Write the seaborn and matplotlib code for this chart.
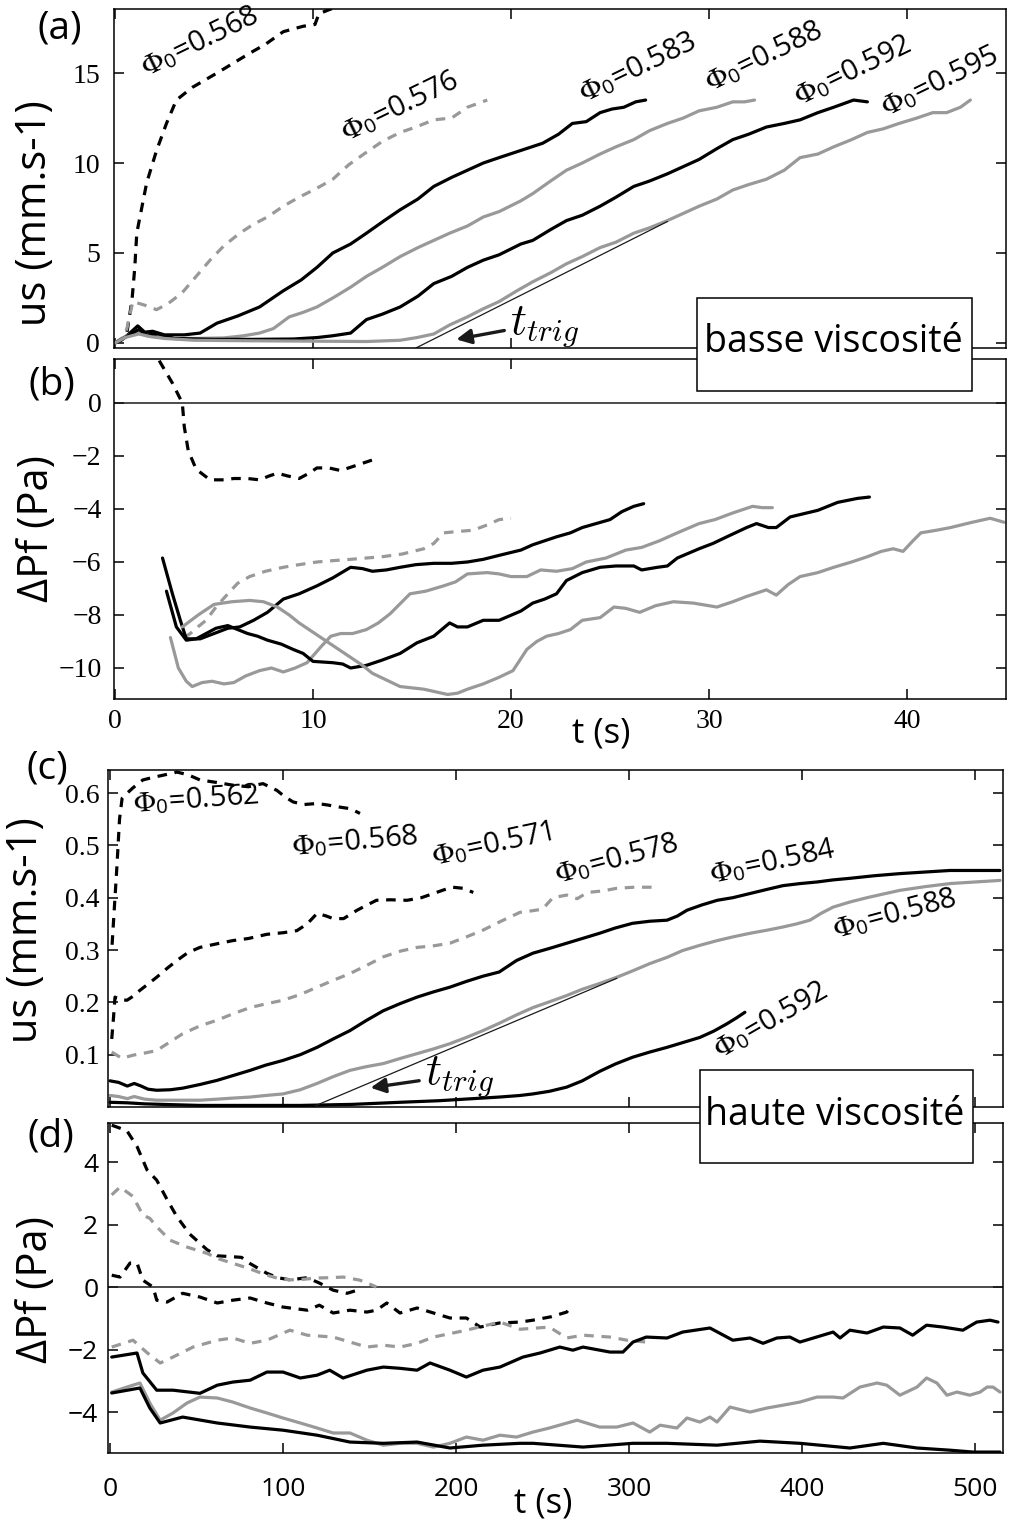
import matplotlib
matplotlib.use("Agg")
import matplotlib.pyplot as plt
from matplotlib.patches import Rectangle
import seaborn as sns

# ---------------- panel (a): us (mm/s), low viscosity ----------------
a568_t = [0, 0.35, 0.6, 0.86, 1.0, 1.1, 1.26, 1.6, 2.1, 2.6, 3.1, 3.9, 5.15, 6.8, 7.6, 8.5, 9.5, 10.1, 10.3, 11.0, 11.6]
a568_u = [0, 0.17, 0.55, 2.4, 4.2, 6.1, 7.0, 8.9, 10.7, 12.2, 13.5, 14.2, 15.0, 16.1, 16.6, 17.3, 17.6, 17.7, 18.3, 18.6, 19.2]
a576_t = [0, 0.4, 0.6, 0.9, 1.5, 2.1, 2.7, 3.4, 4.1, 4.8, 5.5, 6.3, 7.0, 7.7, 8.5, 9.3, 10.2, 11.0, 11.8, 12.7, 13.5, 14.4, 15.2, 16.1, 17.0, 17.8, 18.3, 18.8]
a576_u = [0, 0.3, 0.8, 2.3, 2.1, 1.85, 2.2, 2.8, 3.7, 4.6, 5.4, 6.1, 6.6, 7.0, 7.6, 8.1, 8.6, 9.1, 9.9, 10.6, 11.2, 11.7, 12.0, 12.4, 12.5, 13.1, 13.3, 13.5]
a583_t = [0, 0.5, 0.8, 1.15, 1.5, 1.9, 2.5, 3.5, 4.3, 5.15, 6.2, 7.3, 8.5, 9.4, 10.2, 11.0, 11.9, 12.7, 13.6, 14.4, 15.3, 16.1, 17.0, 17.8, 18.6, 19.4, 20.5, 21.6, 22.4, 23.1, 23.8, 24.5, 25.1, 25.7, 26.3, 26.8]
a583_u = [0, 0.3, 0.6, 0.95, 0.6, 0.65, 0.45, 0.45, 0.55, 1.1, 1.5, 2.0, 2.9, 3.5, 4.2, 5.0, 5.5, 6.1, 6.8, 7.4, 8.0, 8.7, 9.2, 9.6, 10.0, 10.3, 10.7, 11.1, 11.6, 12.2, 12.3, 12.8, 13.0, 13.1, 13.4, 13.5]
a588_t = [0, 0.5, 1.1, 1.6, 2.5, 4, 5.5, 6.5, 7.3, 8.0, 8.8, 9.5, 10.2, 11.0, 11.9, 12.7, 13.5, 14.4, 15.3, 16.1, 16.9, 17.8, 18.6, 19.4, 20.5, 21.1, 22.0, 22.8, 23.6, 24.5, 25.3, 26.2, 27.0, 27.9, 28.7, 29.5, 30.4, 31.2, 31.8, 32.3]
a588_u = [0, 0.35, 0.6, 0.4, 0.3, 0.25, 0.28, 0.4, 0.55, 0.8, 1.45, 1.7, 2.0, 2.5, 3.1, 3.7, 4.2, 4.8, 5.3, 5.7, 6.1, 6.5, 7.0, 7.3, 7.9, 8.3, 9.0, 9.6, 10.0, 10.5, 10.9, 11.3, 11.8, 12.2, 12.5, 12.9, 13.1, 13.4, 13.4, 13.5]
a592_t = [0, 0.5, 1.2, 1.6, 2.2, 3, 5, 7, 9, 10.2, 11.0, 11.9, 12.7, 13.5, 14.4, 15.3, 16.1, 17.0, 17.8, 18.6, 19.4, 20.5, 21.1, 22.0, 22.8, 23.6, 24.5, 25.3, 26.2, 27.0, 27.9, 28.7, 29.5, 30.4, 31.2, 32.0, 32.9, 33.8, 34.6, 35.5, 36.3, 37.3, 38.0]
a592_u = [0, 0.3, 0.75, 0.45, 0.5, 0.25, 0.2, 0.2, 0.22, 0.3, 0.4, 0.55, 1.3, 1.6, 2.0, 2.6, 3.3, 3.7, 4.2, 4.6, 4.9, 5.5, 5.7, 6.3, 6.8, 7.1, 7.6, 8.1, 8.7, 9.0, 9.4, 9.8, 10.2, 10.8, 11.3, 11.6, 12.0, 12.2, 12.4, 12.8, 13.1, 13.5, 13.4]
a595_t = [0, 0.5, 1.2, 1.8, 2.5, 4, 7, 10, 12.7, 14.4, 15.25, 16.1, 16.9, 17.8, 18.6, 19.4, 20.3, 21.1, 22.0, 22.8, 23.6, 24.5, 25.3, 26.2, 27.0, 27.9, 28.7, 29.5, 30.4, 31.2, 32.0, 32.9, 33.8, 34.6, 35.5, 36.3, 37.2, 38.0, 38.8, 39.6, 40.5, 41.3, 42.0, 42.7, 43.2]
a595_u = [0, 0.3, 0.5, 0.35, 0.25, 0.15, 0.12, 0.1, 0.08, 0.15, 0.3, 0.5, 1.0, 1.45, 1.9, 2.3, 2.9, 3.4, 3.9, 4.4, 4.8, 5.3, 5.6, 6.1, 6.4, 6.8, 7.2, 7.6, 8.0, 8.5, 8.8, 9.1, 9.6, 10.3, 10.5, 10.9, 11.3, 11.7, 11.9, 12.2, 12.5, 12.8, 12.8, 13.1, 13.5]
trig_a_t = [15.2, 27.9]
trig_a_u = [-0.28, 6.75]

# ---------------- panel (b): delta Pf (Pa), low viscosity ----------------
b568_t = [1.9, 2.27, 2.9, 3.4, 3.5, 3.7, 4.1, 4.8, 5.5, 6.0, 6.7, 7.3, 7.8, 8.2, 8.7, 9.3, 9.8, 10.2, 10.8, 11.4, 12.2, 13.0]
b568_p = [2.2, 1.55, 0.75, 0.0, -0.9, -1.8, -2.5, -2.9, -2.9, -2.85, -2.85, -2.9, -2.75, -2.65, -2.75, -2.85, -2.65, -2.45, -2.45, -2.55, -2.35, -2.15]
b576_t = [3.5, 3.8, 4.1, 4.6, 5.1, 5.7, 6.2, 6.8, 7.6, 8.5, 9.3, 10.2, 11.0, 11.9, 12.7, 13.5, 14.5, 15.6, 16.1, 16.6, 17.3, 18.1, 18.8, 19.4, 20.0]
b576_p = [-8.85, -8.7, -8.5, -8.2, -7.7, -7.2, -6.8, -6.55, -6.35, -6.2, -6.1, -6.0, -5.95, -5.9, -5.85, -5.8, -5.7, -5.5, -5.3, -4.9, -4.85, -4.8, -4.6, -4.4, -4.35]
b583_t = [2.4, 2.9, 3.3, 3.6, 4.3, 5.0, 5.7, 6.3, 7.0, 7.7, 8.5, 9.3, 10.2, 11.0, 11.9, 12.5, 13.0, 13.7, 14.4, 15.2, 16.1, 17.0, 17.8, 18.6, 19.4, 20.5, 21.1, 22.3, 23.0, 23.6, 24.3, 25.0, 25.6, 26.2, 26.7]
b583_p = [-5.85, -7.2, -8.2, -8.9, -8.9, -8.7, -8.5, -8.45, -8.2, -7.9, -7.4, -7.2, -6.9, -6.6, -6.2, -6.25, -6.35, -6.3, -6.2, -6.1, -6.05, -6.05, -6.0, -5.9, -5.75, -5.55, -5.35, -5.05, -4.9, -4.7, -4.55, -4.4, -4.1, -3.9, -3.8]
b588_t = [2.8, 3.2, 3.6, 3.9, 4.4, 4.9, 5.5, 6.0, 6.6, 7.3, 7.9, 8.5, 9.1, 9.7, 10.4, 10.9, 11.4, 12.0, 12.7, 13.3, 13.9, 14.9, 15.7, 16.6, 17.2, 17.8, 18.8, 19.4, 20.0, 20.8, 21.5, 22.3, 23.1, 23.8, 24.8, 25.8, 26.6, 27.5, 28.4, 29.5, 30.3, 31.2, 32.2, 32.7, 33.2]
b588_p = [-8.85, -10.0, -10.5, -10.7, -10.55, -10.5, -10.6, -10.55, -10.3, -10.1, -10.0, -10.15, -10.0, -9.8, -9.2, -8.8, -8.7, -8.7, -8.55, -8.3, -7.95, -7.2, -7.1, -6.9, -6.75, -6.45, -6.4, -6.45, -6.55, -6.55, -6.3, -6.35, -6.25, -6.0, -5.85, -5.55, -5.45, -5.2, -4.9, -4.55, -4.4, -4.15, -3.9, -3.95, -3.95]
b592_t = [2.6, 3.1, 3.6, 4.1, 4.6, 5.1, 5.7, 6.2, 6.7, 7.2, 7.7, 8.4, 9.0, 9.5, 10.0, 11.0, 11.5, 11.9, 12.3, 12.7, 13.5, 14.4, 15.25, 16.1, 16.9, 17.3, 17.8, 18.6, 19.4, 20.5, 21.1, 21.7, 22.3, 22.8, 23.6, 24.5, 25.3, 26.2, 26.6, 27.0, 27.4, 27.9, 28.4, 29.5, 30.2, 30.9, 31.9, 32.4, 33.0, 33.4, 34.1, 35.5, 36.5, 37.5, 38.1]
b592_p = [-7.1, -8.45, -8.95, -8.9, -8.7, -8.5, -8.4, -8.55, -8.7, -8.8, -8.95, -9.1, -9.3, -9.45, -9.75, -9.8, -9.85, -10.0, -9.95, -9.9, -9.7, -9.45, -9.05, -8.8, -8.3, -8.45, -8.45, -8.2, -8.2, -7.85, -7.55, -7.4, -7.2, -6.7, -6.4, -6.2, -6.15, -6.15, -6.3, -6.25, -6.2, -6.15, -5.85, -5.5, -5.3, -5.05, -4.7, -4.55, -4.7, -4.7, -4.3, -4.05, -3.75, -3.6, -3.55]
b595_t = [3.4, 4.2, 5.0, 5.9, 6.8, 7.5, 8.2, 8.8, 9.3, 9.9, 10.5, 11.2, 11.9, 12.5, 13.0, 13.7, 14.4, 15.0, 15.6, 16.2, 16.8, 17.3, 17.8, 18.6, 19.4, 20.1, 20.8, 21.3, 21.8, 22.4, 23.0, 23.6, 24.5, 25.2, 25.8, 26.5, 27.3, 28.2, 29.2, 30.4, 31.2, 31.9, 32.9, 33.4, 34.0, 34.6, 35.5, 36.3, 37.2, 38.0, 38.7, 39.3, 39.8, 40.3, 40.7, 41.5, 42.2, 43.3, 44.2, 44.9]
b595_p = [-8.45, -8.0, -7.6, -7.5, -7.45, -7.5, -7.7, -8.0, -8.3, -8.6, -8.9, -9.25, -9.6, -9.9, -10.2, -10.45, -10.7, -10.75, -10.8, -10.9, -11.0, -10.95, -10.8, -10.6, -10.35, -10.1, -9.3, -9.0, -8.8, -8.7, -8.55, -8.2, -8.1, -7.7, -7.75, -7.9, -7.65, -7.5, -7.55, -7.7, -7.5, -7.3, -7.05, -7.25, -6.85, -6.55, -6.4, -6.2, -6.0, -5.8, -5.6, -5.5, -5.6, -5.2, -4.9, -4.8, -4.7, -4.5, -4.35, -4.5]

# ---------------- panel (c): us (mm/s), high viscosity ----------------
c562_t = [1.2, 2.5, 4.0, 5.5, 7.0, 10, 13.3, 19, 25, 32, 38.7, 45, 52, 62, 71, 80, 88.4, 96.5, 101, 105.8, 112, 119.7, 126, 133, 139, 144.5]
c562_u = [0.31, 0.38, 0.46, 0.55, 0.59, 0.6, 0.61, 0.625, 0.63, 0.635, 0.64, 0.635, 0.625, 0.62, 0.615, 0.612, 0.618, 0.605, 0.593, 0.583, 0.578, 0.58, 0.577, 0.573, 0.57, 0.561]
c571_t = [1, 2.0, 2.9, 6, 9.8, 13.5, 17.3, 22, 27, 33, 38.7, 45, 52, 62, 71, 80, 90.7, 100, 108, 114, 119.7, 125, 129, 135, 142.8, 148, 154, 162, 171.7, 180, 187, 193, 198, 204, 210]
c571_u = [0.13, 0.17, 0.21, 0.205, 0.204, 0.212, 0.223, 0.235, 0.248, 0.265, 0.28, 0.295, 0.305, 0.312, 0.318, 0.322, 0.33, 0.333, 0.337, 0.35, 0.37, 0.365, 0.36, 0.36, 0.376, 0.385, 0.395, 0.396, 0.395, 0.4, 0.408, 0.415, 0.42, 0.418, 0.41]
c578_t = [1, 6.9, 13.3, 20, 27, 35, 42, 52, 62, 71, 81, 90, 100, 110, 119.7, 129, 138.7, 148, 158, 168, 177.5, 187, 196.5, 206, 215.6, 226, 237, 244, 250, 256, 264, 270, 276, 285, 293, 303, 315]
c578_u = [0.105, 0.093, 0.099, 0.103, 0.108, 0.125, 0.14, 0.155, 0.166, 0.178, 0.19, 0.197, 0.204, 0.215, 0.229, 0.242, 0.255, 0.27, 0.287, 0.298, 0.305, 0.308, 0.313, 0.325, 0.338, 0.355, 0.372, 0.375, 0.378, 0.40, 0.405, 0.398, 0.41, 0.413, 0.418, 0.42, 0.42]
c584_t = [0, 5, 10, 14, 18, 22, 27, 35, 42, 52, 62, 71, 81, 90, 100, 110, 119.7, 129, 138.7, 148, 158, 168, 177.5, 187, 196.5, 206, 215.6, 225, 235, 244.5, 254, 264, 273, 283, 292, 302, 312, 322, 328, 333.5, 342, 351, 360, 370, 380, 389, 399, 408.7, 418, 427.7, 442, 456.6, 471, 485.5, 500, 514.5]
c584_u = [0.05, 0.047, 0.04, 0.045, 0.04, 0.034, 0.032, 0.033, 0.036, 0.043, 0.051, 0.06, 0.07, 0.08, 0.089, 0.1, 0.114, 0.13, 0.146, 0.165, 0.184, 0.198, 0.21, 0.22, 0.229, 0.24, 0.25, 0.258, 0.28, 0.294, 0.303, 0.313, 0.322, 0.332, 0.342, 0.351, 0.355, 0.357, 0.365, 0.376, 0.386, 0.395, 0.40, 0.408, 0.416, 0.423, 0.427, 0.43, 0.434, 0.437, 0.442, 0.446, 0.449, 0.452, 0.452, 0.452]
c588_t = [0, 5, 10, 14, 20, 27, 40, 52, 62, 71, 81, 90, 100, 110, 119.7, 129, 138.7, 148, 158, 168, 177.5, 187, 196.5, 206, 215.6, 225, 235, 244.5, 254, 264, 273, 283, 293, 302, 312, 322, 331, 341, 351, 360, 370, 380, 389, 397, 404.6, 411, 418, 428, 437.6, 447, 456.6, 471, 485.5, 500, 514.5]
c588_u = [0.022, 0.02, 0.016, 0.02, 0.015, 0.013, 0.013, 0.013, 0.015, 0.017, 0.019, 0.022, 0.025, 0.033, 0.045, 0.058, 0.07, 0.077, 0.083, 0.093, 0.102, 0.111, 0.121, 0.133, 0.146, 0.16, 0.176, 0.19, 0.201, 0.213, 0.225, 0.236, 0.248, 0.26, 0.274, 0.286, 0.299, 0.309, 0.318, 0.325, 0.332, 0.338, 0.344, 0.35, 0.357, 0.37, 0.382, 0.392, 0.40, 0.407, 0.414, 0.421, 0.427, 0.43, 0.433]
c592_t = [0, 10, 20, 30, 52, 80, 110, 140, 167.6, 190, 210, 225, 237, 244.5, 254, 264, 273, 283, 292, 302, 312, 322, 331, 341, 349, 356.6, 362, 367]
c592_u = [0.009, 0.008, 0.006, 0.005, 0.003, 0.003, 0.003, 0.005, 0.009, 0.012, 0.016, 0.019, 0.022, 0.025, 0.03, 0.038, 0.05, 0.068, 0.082, 0.095, 0.105, 0.114, 0.123, 0.133, 0.145, 0.159, 0.17, 0.181]
trig_c_t = [117, 293]
trig_c_u = [0.0, 0.246]

# ---------------- panel (d): delta Pf (Pa), high viscosity ----------------
d562_t = [1, 5, 9.8, 15.6, 21.4, 27, 33, 38.7, 46, 56, 62, 71, 76, 81, 90.7, 97, 104, 114, 121, 129, 137, 143]
d562_p = [5.18, 5.1, 5.0, 4.5, 3.75, 3.42, 2.8, 2.25, 1.7, 1.2, 1.0, 0.97, 0.95, 0.75, 0.44, 0.3, 0.23, 0.3, 0.13, -0.1, -0.2, -0.1]
d568_t = [1, 5.8, 13.3, 19, 23, 27, 34.7, 44.5, 56, 63, 71, 80, 90.7, 97, 104, 112, 119.7, 127, 134.7, 144.5, 150, 154]
d568_p = [2.95, 3.2, 2.9, 2.3, 2.2, 1.93, 1.5, 1.28, 1.08, 0.9, 0.76, 0.6, 0.38, 0.28, 0.23, 0.25, 0.29, 0.3, 0.32, 0.22, 0.1, 0.0]
d571_t = [1, 5.8, 11.6, 15.6, 19, 24.9, 27, 33, 42, 52, 62, 71, 81, 90.7, 100, 114, 121, 129, 138.7, 148.5, 154, 160, 167.6, 177.5, 187, 196.5, 206, 214, 225, 237, 244.5, 255, 264, 266]
d571_p = [0.38, 0.32, 0.77, 0.77, 0.22, 0.0, -0.42, -0.48, -0.2, -0.32, -0.51, -0.42, -0.35, -0.51, -0.64, -0.74, -0.58, -0.83, -0.74, -0.8, -0.74, -0.51, -0.83, -0.67, -0.83, -0.99, -0.99, -1.28, -1.15, -1.12, -1.06, -0.95, -0.8, -0.67]
d578_t = [1, 13.3, 21.4, 29, 36.4, 48, 62, 71, 81, 90.7, 104, 114, 129, 148.5, 158, 167.6, 177.5, 187, 206, 225.4, 237, 254, 264, 273.4, 289, 298.8, 310]
d578_p = [-1.92, -1.7, -2.1, -2.43, -2.24, -1.92, -1.7, -1.63, -1.8, -1.7, -1.38, -1.54, -1.6, -1.92, -1.86, -1.92, -1.8, -1.6, -1.38, -1.12, -1.35, -1.28, -1.63, -1.54, -1.6, -1.7, -1.76]
d584_t = [1, 15.6, 19, 27, 36.4, 52, 62, 71, 81, 90.7, 100, 110, 119.7, 127, 134.7, 148.5, 158, 167.6, 177.5, 185, 196.5, 206, 215.6, 225.4, 238.7, 248.6, 260, 267.6, 273.4, 289, 296.5, 302.3, 310, 322, 331, 346.8, 360, 370, 377.5, 385.5, 393, 398.8, 418, 422, 427.7, 437.6, 447, 456.6, 464, 472, 481.5, 493, 501, 508.7, 513.3]
d584_p = [-2.24, -2.11, -2.75, -3.3, -3.3, -3.4, -3.14, -3.04, -2.98, -2.72, -2.72, -2.91, -2.82, -2.66, -2.91, -2.66, -2.56, -2.6, -2.66, -2.43, -2.66, -2.88, -2.66, -2.56, -2.24, -2.11, -1.92, -2.02, -1.92, -2.08, -2.08, -1.76, -1.6, -1.63, -1.44, -1.31, -1.7, -1.63, -1.8, -1.63, -1.6, -1.76, -1.44, -1.63, -1.38, -1.47, -1.28, -1.31, -1.54, -1.22, -1.28, -1.38, -1.12, -1.06, -1.12]
d588_t = [1, 9.8, 17.3, 23, 29, 36.4, 44.5, 52, 62, 71, 81, 90.7, 100, 110, 119.7, 129, 138.7, 148.5, 158, 167.6, 177.5, 187, 196.5, 206, 215.6, 225.4, 235, 244.5, 254, 270, 283, 293, 302.3, 312, 318, 327.7, 333.5, 341, 346.8, 350.9, 358.4, 370, 379.8, 389, 398.8, 408.7, 418, 423.7, 433.5, 443.4, 449, 456.6, 466.5, 472, 478, 483.8, 489.6, 497, 503, 507, 510.4, 514.5]
d588_p = [-3.36, -3.2, -3.07, -3.71, -4.26, -4.03, -3.71, -3.52, -3.55, -3.68, -3.87, -4.03, -4.19, -4.35, -4.51, -4.67, -4.67, -4.9, -5.06, -5.0, -5.0, -5.12, -5.0, -4.8, -4.9, -4.74, -4.8, -4.64, -4.51, -4.26, -4.48, -4.48, -4.35, -4.64, -4.42, -4.51, -4.19, -4.32, -4.16, -4.32, -3.84, -4.0, -3.87, -3.78, -3.68, -3.52, -3.52, -3.55, -3.2, -3.07, -3.14, -3.46, -3.2, -2.91, -3.07, -3.46, -3.36, -3.46, -3.36, -3.2, -3.2, -3.36]
d592_t = [1, 17.3, 23, 29, 42, 62, 81, 100, 119.7, 138.7, 158, 177.5, 196.5, 215.6, 237, 244.5, 273.4, 302.3, 322, 350.9, 375.7, 398.8, 427.7, 447, 466.5, 485.5, 499, 514.5]
d592_p = [-3.39, -3.23, -3.87, -4.35, -4.16, -4.35, -4.48, -4.58, -4.74, -4.96, -5.0, -4.96, -5.15, -5.06, -5.0, -5.0, -5.12, -5.0, -5.0, -5.06, -4.93, -5.0, -5.15, -5.0, -5.15, -5.22, -5.28, -5.28]

# tick labels
a_yticks = [0, 5, 10, 15]
ab_xticks = [0, 10, 20, 30, 40]
ab_xticklabels = ["0", "10", "20", "30", "40"]
b_yticks = [0, -2, -4, -6, -8, -10]
b_yticklabels = ["0", "\u22122", "\u22124", "\u22126", "\u22128", "\u221210"]
c_yticks = [0.1, 0.2, 0.3, 0.4, 0.5, 0.6]
cd_xticks = [0, 100, 200, 300, 400, 500]
d_yticks = [-4, -2, 0, 2, 4]
d_yticklabels = ["\u22124", "\u22122", "0", "2", "4"]

BLACK = "#000000"
GRAY = "#999999"
DASH = (0, (3, 2.4))

sns.set_theme(style="ticks")
plt.rcParams["font.family"] = ["Open Sans", "DejaVu Sans"]
plt.rcParams["mathtext.fontset"] = "stix"
plt.rcParams["text.color"] = "black"
plt.rcParams["axes.labelcolor"] = "black"
plt.rcParams["axes.edgecolor"] = "black"
plt.rcParams["axes.linewidth"] = 1.1
for ax_name in ("xtick", "ytick"):
    plt.rcParams[ax_name + ".direction"] = "in"
    plt.rcParams[ax_name + ".major.size"] = 7
    plt.rcParams[ax_name + ".major.width"] = 1.1
    plt.rcParams[ax_name + ".color"] = "black"
    plt.rcParams[ax_name + ".labelcolor"] = "black"
plt.rcParams["xtick.top"] = True
plt.rcParams["ytick.right"] = True

W, H = 1010, 1519
fig = plt.figure(figsize=(W / 100, H / 100), dpi=100)


def add_axes(left, top, right, bottom):
    return fig.add_axes([left / W, 1 - bottom / H, (right - left) / W, (bottom - top) / H])


def curve(ax, t, v, color, dashed=False):
    sns.lineplot(x=t, y=v, ax=ax, color=color, lw=2.3, estimator=None, sort=False,
                 linestyle=DASH if dashed else "-")


def phi(ax, x, y, txt, rot, size=21):
    ax.text(x, y, r"$\Phi_\mathregular{0}$=" + txt, rotation=rot, rotation_mode="anchor",
            ha="center", va="center", fontsize=size, color="black")


SERIF = "Liberation Serif"

ax_a = add_axes(114, 9, 1006, 348)
ax_b = add_axes(114, 359, 1006, 699)
ax_c = add_axes(108, 770, 1003, 1107)
ax_d = add_axes(108, 1123, 1003, 1453)

# ---- (a)
curve(ax_a, a568_t, a568_u, BLACK, True)
curve(ax_a, a576_t, a576_u, GRAY, True)
curve(ax_a, a583_t, a583_u, BLACK)
curve(ax_a, a588_t, a588_u, GRAY)
curve(ax_a, a592_t, a592_u, BLACK)
curve(ax_a, a595_t, a595_u, GRAY)
ax_a.plot(trig_a_t, trig_a_u, color="k", lw=0.9)
ax_a.annotate("", xy=(17.1, 0.17), xytext=(19.8, 0.72),
              arrowprops=dict(arrowstyle="-|>", color="k", lw=2.4, mutation_scale=22))
ax_a.text(19.95, 0.55, r"$t_{trig}$", math_fontfamily="cm", fontsize=32, ha="left", va="baseline")
ax_a.set_xlim(-0.05, 45)
ax_a.set_ylim(-0.28, 18.56)
ax_a.set_xticks(ab_xticks)
ax_a.tick_params(labelbottom=False)
ax_a.set_yticks(a_yticks, labels=[str(v) for v in a_yticks], fontfamily=SERIF, fontsize=20)
ax_a.tick_params(axis="y", pad=10)
phi(ax_a, 4.3, 16.7, "0.568", 26)
phi(ax_a, 14.4, 13.1, "0.576", 26)
phi(ax_a, 26.4, 15.3, "0.583", 26)
phi(ax_a, 32.8, 15.9, "0.588", 26)
phi(ax_a, 37.3, 15.1, "0.592", 26)
phi(ax_a, 41.7, 14.5, "0.595", 26)
ax_a.set_ylabel("us (mm.s-1)", fontsize=30)

# ---- (b)
ax_b.axhline(0, color="k", lw=1.1)
curve(ax_b, b568_t, b568_p, BLACK, True)
curve(ax_b, b576_t, b576_p, GRAY, True)
curve(ax_b, b583_t, b583_p, BLACK)
curve(ax_b, b588_t, b588_p, GRAY)
curve(ax_b, b592_t, b592_p, BLACK)
curve(ax_b, b595_t, b595_p, GRAY)
ax_b.set_xlim(-0.05, 45)
ax_b.set_ylim(-11.17, 1.66)
ax_b.set_xticks(ab_xticks, labels=ab_xticklabels, fontfamily=SERIF, fontsize=20)
ax_b.set_yticks(b_yticks, labels=b_yticklabels, fontfamily=SERIF, fontsize=20)
ax_b.tick_params(axis="x", pad=7)
ax_b.tick_params(axis="y", pad=9)
ax_b.set_ylabel("\u0394Pf (Pa)", fontsize=30)

# ---- (c)
curve(ax_c, c562_t, c562_u, BLACK, True)
curve(ax_c, c571_t, c571_u, BLACK, True)
curve(ax_c, c578_t, c578_u, GRAY, True)
curve(ax_c, c584_t, c584_u, BLACK)
curve(ax_c, c588_t, c588_u, GRAY)
curve(ax_c, c592_t, c592_u, BLACK)
ax_c.plot(trig_c_t, trig_c_u, color="k", lw=0.9)
ax_c.annotate("", xy=(149, 0.036), xytext=(180.3, 0.051),
              arrowprops=dict(arrowstyle="-|>", color="k", lw=2.4, mutation_scale=22))
ax_c.text(182, 0.045, r"$t_{trig}$", math_fontfamily="cm", fontsize=32, ha="left", va="baseline")
ax_c.set_xlim(-1.16, 516.2)
ax_c.set_ylim(0.0, 0.644)
ax_c.set_xticks(cd_xticks)
ax_c.tick_params(labelbottom=False)
ax_c.set_yticks(c_yticks, labels=["%.1f" % v for v in c_yticks], fontfamily=SERIF, fontsize=20)
ax_c.tick_params(axis="y", pad=6)
phi(ax_c, 50, 0.586, "0.562", 4)
phi(ax_c, 141.6, 0.506, "0.568", 5)
phi(ax_c, 221, 0.50, "0.571", 12)
phi(ax_c, 293, 0.472, "0.578", 15)
phi(ax_c, 383, 0.467, "0.584", 12)
phi(ax_c, 453.8, 0.367, "0.588", 15)
phi(ax_c, 382, 0.165, "0.592", 30)
ax_c.set_ylabel("us (mm.s-1)", fontsize=30)

# ---- (d)
ax_d.axhline(0, color="k", lw=1.1)
curve(ax_d, d562_t, d562_p, BLACK, True)
curve(ax_d, d568_t, d568_p, GRAY, True)
curve(ax_d, d571_t, d571_p, BLACK, True)
curve(ax_d, d578_t, d578_p, GRAY, True)
curve(ax_d, d584_t, d584_p, BLACK)
curve(ax_d, d588_t, d588_p, GRAY)
curve(ax_d, d592_t, d592_p, BLACK)
ax_d.set_xlim(-1.16, 516.2)
ax_d.set_ylim(-5.31, 5.25)
ax_d.set_xticks(cd_xticks, labels=[str(v) for v in cd_xticks], fontsize=19)
ax_d.set_yticks(d_yticks, labels=d_yticklabels, fontsize=19)
ax_d.tick_params(axis="x", pad=17)
ax_d.tick_params(axis="y", pad=7)
ax_d.set_ylabel("\u0394Pf (Pa)", fontsize=30)

# y label placement (axes fraction), centred on the text
for ax, lx, ly in ((ax_a, -0.089, 0.398), (ax_b, -0.086, 0.5), (ax_c, -0.092, 0.525), (ax_d, -0.080, 0.494)):
    ax.yaxis.label.set_verticalalignment("center")
    ax.yaxis.set_label_coords(lx, ly)

for ax in (ax_a, ax_b, ax_c, ax_d):
    for s in ax.spines.values():
        s.set_color("black")
        s.set_linewidth(1.1)
    ax.set_xlabel("")

# panel letters and x labels
for txt, x, y in (("(a)", 60, 29), ("(b)", 52, 385), ("(c)", 47, 769), ("(d)", 51, 1137)):
    fig.text(x / W, 1 - y / H, txt, ha="center", va="center", fontsize=28)
fig.text(601 / W, 1 - 742 / H, "t (s)", ha="center", va="baseline", fontsize=25)
fig.text(543 / W, 1 - 1512 / H, "t (s)", ha="center", va="baseline", fontsize=25)

# viscosity boxes straddling the panels
for (x0, y0, x1, y1), label, tx, ty in (((697, 298, 972, 391), "basse viscosit\u00e9", 833, 352),
                                       ((700, 1070, 973, 1163), "haute viscosit\u00e9", 835, 1125)):
    fig.add_artist(Rectangle((x0 / W, 1 - y1 / H), (x1 - x0) / W, (y1 - y0) / H,
                             transform=fig.transFigure, fc="white", ec="black", lw=1.1, zorder=5))
    fig.text(tx / W, 1 - ty / H, label, ha="center", va="baseline", fontsize=27, zorder=6)

fig.savefig("out.png", dpi=100)
